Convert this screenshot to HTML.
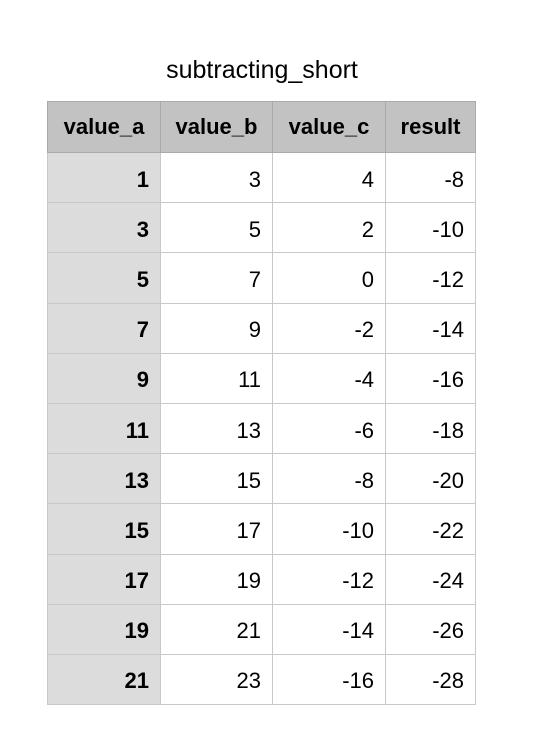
<!DOCTYPE html>
<html><head><meta charset="utf-8"><style>
body{margin:0;width:538px;height:746px;background:#fff;font-family:"Liberation Sans",Arial,sans-serif;position:relative;}
#title{position:absolute;left:0;width:524px;top:56px;text-align:center;font-size:25px;color:#000;}
table{position:absolute;left:47px;top:101px;border-collapse:collapse;}
td,th{border:1px solid #c8c8c8;font-size:22px;padding:0 11px;height:50.2px;box-sizing:border-box;}
th{background:#c2c2c2;font-weight:bold;text-align:center;height:51px;border-color:#aaa;}
td{text-align:right;padding-top:4px;}
td.a{background:#dcdcdc;font-weight:bold;}
</style></head><body>
<div id="title">subtracting_short</div>
<table>
<colgroup><col style="width:113px"><col style="width:112px"><col style="width:113px"><col style="width:90px"></colgroup>
<thead><tr>
<th>value_a</th>
<th>value_b</th>
<th>value_c</th>
<th>result</th></tr></thead>
<tbody id="tb"></tbody></table>
<script>
const valueA=[1,3,5,7,9,11,13,15,17,19,21];
const valueB=[3,5,7,9,11,13,15,17,19,21,23];
const valueC=[4,2,0,-2,-4,-6,-8,-10,-12,-14,-16];
const result=[-8,-10,-12,-14,-16,-18,-20,-22,-24,-26,-28];
const tb=document.getElementById('tb');
valueA.forEach((a,i)=>{
  const tr=document.createElement('tr');
  
  
  tr.style.height='50.2px';
  [a,valueB[i],valueC[i],result[i]].forEach((v,j)=>{
    const td=document.createElement('td');
    if(j===0)td.className='a';
    td.textContent=v;
    
    
    tr.appendChild(td);
  });
  tb.appendChild(tr);
});
</script>
</body></html>
